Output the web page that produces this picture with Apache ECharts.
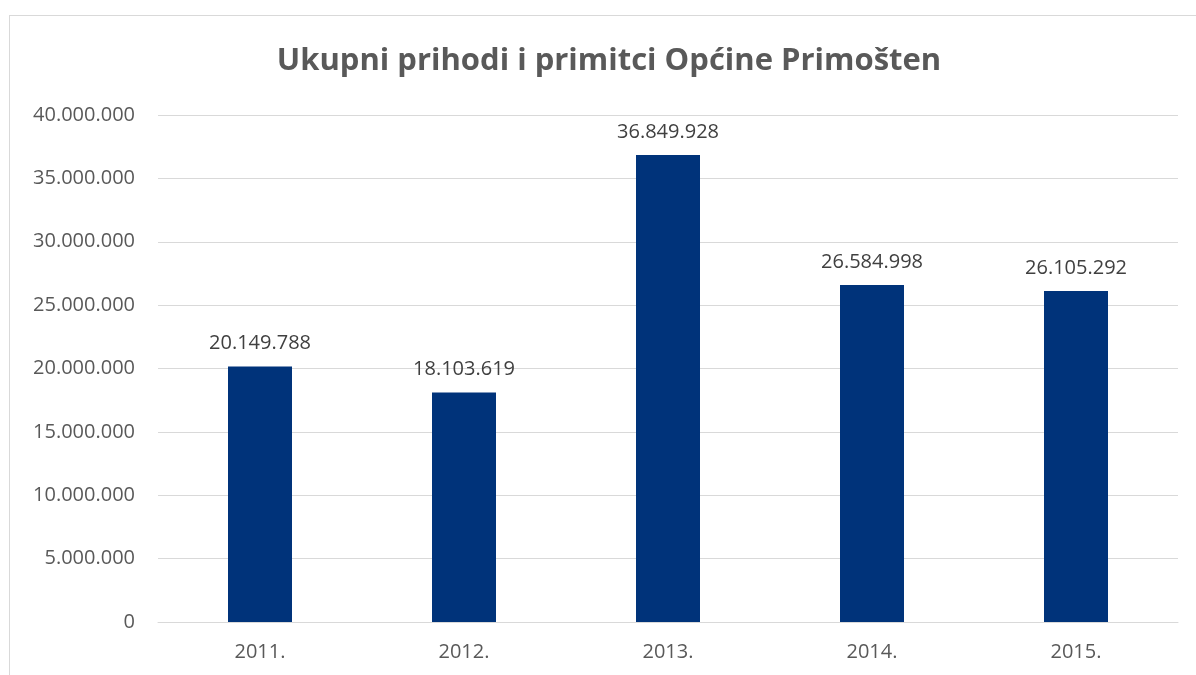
<!DOCTYPE html>
<html>
<head>
<meta charset="utf-8">
<script src="https://cdn.jsdelivr.net/npm/echarts@6/dist/echarts.min.js"></script>
<style>
    html, body { margin: 0; padding: 0; background: #fff; }
    #frame { position: absolute; left: 9px; top: 15px; width: 1300px; height: 800px; border: 1px solid #d9d9d9; }
    #main { position: absolute; left: 0; top: 0; width: 1196px; height: 675px; }
</style>
</head>
<body>
<div id="frame"></div>
<div id="main"></div>
<script>
var years = ['2011.', '2012.', '2013.', '2014.', '2015.'];
var prihodi = [20149788, 18103619, 36849928, 26584998, 26105292];

// hrvatski format s točkama
function fmt(v) {
    return String(v).replace(/\B(?=(\d{3})+(?!\d))/g, '.');
}

var myChart = echarts.init(document.getElementById('main'));
var option = {
    title: {
        text: 'Ukupni prihodi i primitci Općine Primošten',
        left: 604,
        top: 41,
        textAlign: 'center',
        textStyle: {
            fontFamily: 'Open Sans',
            fontWeight: 'bold',
            fontSize: 31,
            color: '#595959'
        }
    },
    grid: {
        left: 158,
        right: 18,
        top: 115,
        bottom: 53,
        containLabel: false
    },
    xAxis: {
        type: 'category',
        data: years,
        axisTick: { show: false },
        axisLine: { lineStyle: { color: '#d9d9d9', width: 1 } },
        axisLabel: {
            color: '#595959',
            fontFamily: 'Open Sans',
            fontSize: 20,
            margin: 20
        }
    },
    yAxis: {
        type: 'value',
        min: 0,
        max: 40000000,
        interval: 5000000,
        axisLine: { show: false },
        axisTick: { show: false },
        splitLine: { lineStyle: { color: '#d9d9d9', width: 1 } },
        axisLabel: {
            color: '#595959',
            fontFamily: 'Open Sans',
            fontSize: 20,
            margin: 23,
            formatter: function(v) { return fmt(v); }
        }
    },
    series: [{
        type: 'bar',
        data: prihodi,
        barWidth: 64,
        itemStyle: { color: '#00337a' },
        label: {
            show: true,
            position: 'top',
            distance: 13,
            color: '#404040',
            fontFamily: 'Open Sans',
            fontSize: 20,
            formatter: function(p) { return fmt(p.value); }
        }
    }],
    animation: false
};
myChart.setOption(option);
</script>
</body>
</html>
